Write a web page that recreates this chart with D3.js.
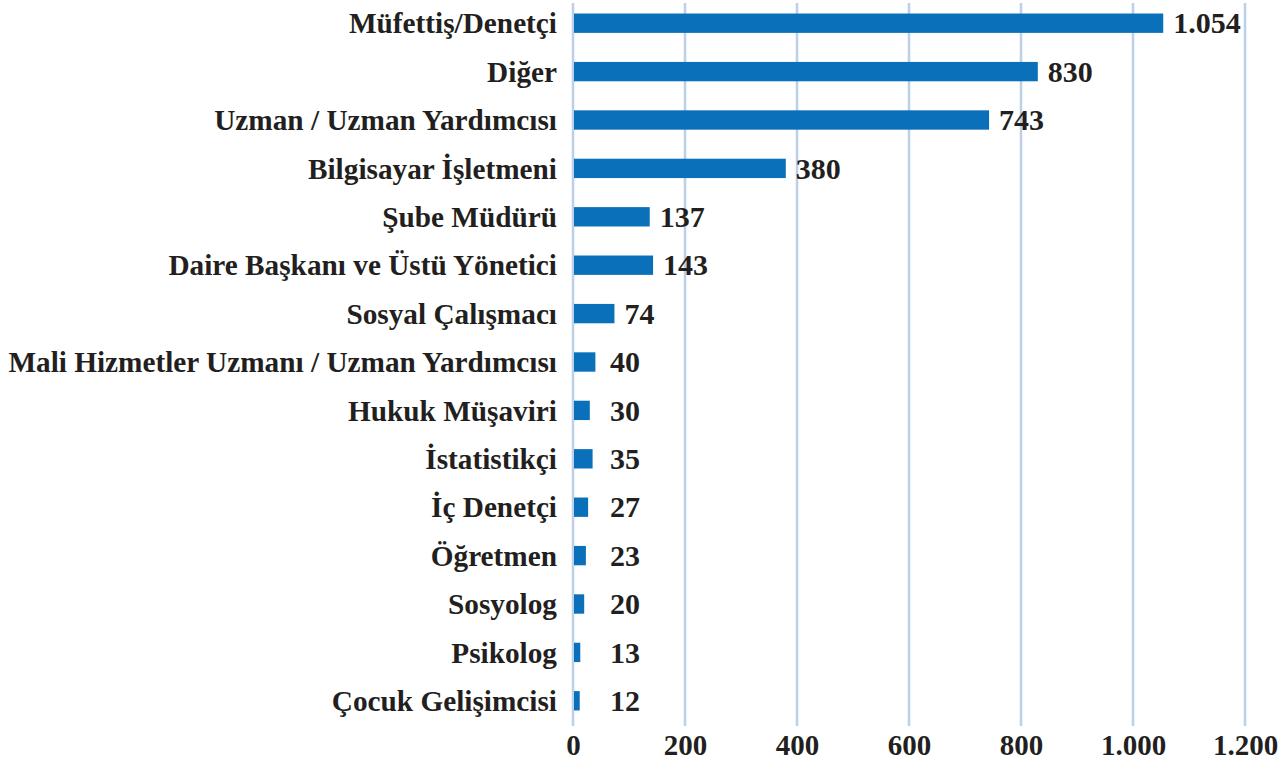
<!DOCTYPE html>
<html><head><meta charset="utf-8">
<script src="https://cdn.jsdelivr.net/npm/d3@7"></script>
<style>
html,body{margin:0;padding:0;background:#fff;}
svg{display:block;}
text{font-family:"Liberation Serif","DejaVu Serif",serif;font-weight:bold;fill:#231f20;}
</style></head>
<body>
<svg id="chart" width="1287" height="762"></svg>
<script>
const categories = ["Müfettiş/Denetçi","Diğer","Uzman / Uzman Yardımcısı","Bilgisayar İşletmeni","Şube Müdürü","Daire Başkanı ve Üstü Yönetici","Sosyal Çalışmacı","Mali Hizmetler Uzmanı / Uzman Yardımcısı","Hukuk Müşaviri","İstatistikçi","İç Denetçi","Öğretmen","Sosyolog","Psikolog","Çocuk Gelişimcisi"];
const values = [1054,830,743,380,137,143,74,40,30,35,27,23,20,13,12];
const tickValues = [0,200,400,600,800,1000,1200];
const tickLabels = ["0","200","400","600","800","1.000","1.200"];
const valueLabels = ["1.054","830","743","380","137","143","74","40","30","35","27","23","20","13","12"];

(function(){
const svg = d3.select("#chart");
const mLeft = 573, mRight = 1245, mTop = -1, mBottom = 725;
const x = d3.scaleLinear().domain([0,1200]).range([mLeft,mRight]);
const y = d3.scaleBand().domain(categories).range([mTop,mBottom]).paddingInner(0.6).paddingOuter(0.3);

// gridlines
svg.append("g").selectAll("line").data(tickValues).join("line")
  .attr("x1",d=>x(d)).attr("x2",d=>x(d)).attr("y1",3).attr("y2",726)
  .attr("stroke","#bdd0ea").attr("stroke-width",2.5);

// bars
svg.append("g").selectAll("rect").data(values).join("rect")
  .attr("x",x(0)+1).attr("y",(d,i)=>y(categories[i]))
  .attr("width",d=>x(d)-x(0)-1).attr("height",y.bandwidth())
  .attr("fill","#0a70ba");

// category labels
const cat = svg.append("g").selectAll("text").data(categories).join("text")
  .attr("x",557).attr("y",d=>y(d)+y.bandwidth()/2)
  .attr("dy","0.35em").attr("text-anchor","end")
  .style("font-size","22px").text(d=>d);
let maxW = 0; cat.each(function(){maxW=Math.max(maxW,this.getComputedTextLength());});
const fs = 22*549/maxW;
cat.style("font-size",fs+"px");

// value labels
svg.append("g").selectAll("text").data(values).join("text")
  .attr("x",d=>Math.max(x(d)+10, x(0)+37)).attr("y",(d,i)=>y(categories[i])+y.bandwidth()/2)
  .attr("dy","0.34em").style("font-size","30px").text((d,i)=>valueLabels[i]);

// axis tick labels
const axis = d3.axisBottom(x).tickValues(tickValues).tickFormat((d,i)=>tickLabels[i]).tickSize(0).tickPadding(0);
const ag = svg.append("g").attr("transform","translate(0,734)").call(axis);
ag.select(".domain").remove();
ag.selectAll("text").attr("font-family",null).attr("fill",null).style("font-size","29px").attr("dy","0.71em");
})();
</script>
</body></html>
